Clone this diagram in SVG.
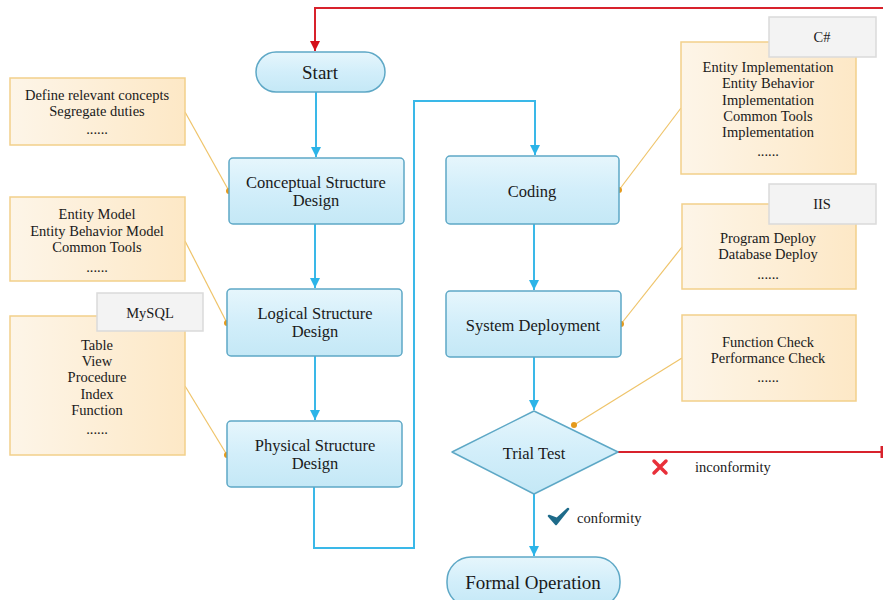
<svg xmlns="http://www.w3.org/2000/svg" width="883" height="600" viewBox="0 0 883 600">
  <defs>
    <linearGradient id="blueFill" x1="0" y1="0" x2="0" y2="1">
      <stop offset="0" stop-color="#e6f6fc"/>
      <stop offset="0.5" stop-color="#d2eefa"/>
      <stop offset="1" stop-color="#c4e8f6"/>
    </linearGradient>
    <linearGradient id="noteFill" x1="0" y1="0" x2="1" y2="0">
      <stop offset="0" stop-color="#fdf5e8"/>
      <stop offset="1" stop-color="#fde8c6"/>
    </linearGradient>
    <marker id="arrowBlue" viewBox="0 0 10 10" refX="10" refY="5" markerWidth="5" markerHeight="5" markerUnits="strokeWidth" orient="auto">
      <path d="M0,0 L10,5 L0,10 z" fill="#2cb4e8"/>
    </marker>
    <marker id="arrowRed" viewBox="0 0 10 10" refX="10" refY="5" markerWidth="5" markerHeight="5" markerUnits="strokeWidth" orient="auto">
      <path d="M0,0 L10,5 L0,10 z" fill="#d40f1a"/>
    </marker>
    <marker id="dot" viewBox="0 0 10 10" refX="5" refY="5" markerWidth="6" markerHeight="6" markerUnits="userSpaceOnUse">
      <circle cx="5" cy="5" r="5" fill="#e59a1c"/>
    </marker>
  </defs>
  <style>
    .proc { fill: url(#blueFill); stroke: #5ea8c6; stroke-width: 1.5; }
    .note { fill: url(#noteFill); stroke: #f2d08a; stroke-width: 1.5; }
    .tag { fill: #f3f3f3; stroke: #dadada; stroke-width: 1.5; }
    .flow { fill: none; stroke: #3ab8e8; stroke-width: 2; }
    .back { fill: none; stroke: #d8222c; stroke-width: 2; }
    .link { fill: none; stroke: #efc46a; stroke-width: 1.2; }
    .t { font-family: "Liberation Serif", "Times New Roman", serif; fill: #1a1a1a; text-anchor: middle; }
    .big { font-size: 19px; }
    .mid { font-size: 16.5px; }
    .small { font-size: 14.5px; }
    .lbl { font-family: "Liberation Serif", "Times New Roman", serif; font-size: 14.5px; fill: #1a1a1a; }
  </style>

  <rect width="883" height="600" fill="#ffffff"/>

  <!-- connectors -->
  <g id="connectors">
    <path class="back" d="M883,8 H315 V51" marker-end="url(#arrowRed)"/>
    <path class="flow" d="M316,92 V157" marker-end="url(#arrowBlue)"/>
    <path class="flow" d="M315,224 V288" marker-end="url(#arrowBlue)"/>
    <path class="flow" d="M315,356 V420" marker-end="url(#arrowBlue)"/>
    <path class="flow" d="M314,487 V548 H414 V101 H535 V155"  marker-end="url(#arrowBlue)"/>
    <path class="flow" d="M534,224 V290" marker-end="url(#arrowBlue)"/>
    <path class="flow" d="M534,357 V410" marker-end="url(#arrowBlue)"/>
    <path class="flow" d="M534,494 V556" marker-end="url(#arrowBlue)"/>
    <path class="back" d="M618,452 H882"/>
    <path d="M882,446 V458" stroke="#d8222c" stroke-width="3"/>
    <!-- note leaders -->
    <path class="link" d="M185,112 L229,191" marker-end="url(#dot)"/>
    <path class="link" d="M185,241 L227,323" marker-end="url(#dot)"/>
    <path class="link" d="M185,386 L227,455" marker-end="url(#dot)"/>
    <path class="link" d="M681,108 L619,190" marker-end="url(#dot)"/>
    <path class="link" d="M682,247 L621,324" marker-end="url(#dot)"/>
    <path class="link" d="M682,358 L574,425" marker-end="url(#dot)"/>
  </g>

  <!-- flow nodes -->
  <g id="start">
    <rect class="proc" x="256" y="52" width="129" height="40" rx="20"/>
    <text class="t big" x="320" y="79">Start</text>
  </g>
  <g id="conceptual">
    <rect class="proc" x="229" y="158" width="175" height="66" rx="4"/>
    <text class="t mid" x="316" y="188">Conceptual Structure</text>
    <text class="t mid" x="316" y="206">Design</text>
  </g>
  <g id="logical">
    <rect class="proc" x="227" y="289" width="175" height="67" rx="4"/>
    <text class="t mid" x="315" y="319">Logical Structure</text>
    <text class="t mid" x="315" y="337">Design</text>
  </g>
  <g id="physical">
    <rect class="proc" x="227" y="421" width="175" height="66" rx="4"/>
    <text class="t mid" x="315" y="451">Physical Structure</text>
    <text class="t mid" x="315" y="469">Design</text>
  </g>
  <g id="coding">
    <rect class="proc" x="446" y="156" width="173" height="68" rx="4"/>
    <text class="t mid" x="532" y="197">Coding</text>
  </g>
  <g id="deployment">
    <rect class="proc" x="446" y="291" width="175" height="66" rx="4"/>
    <text class="t mid" x="533" y="331">System Deployment</text>
  </g>
  <g id="trial">
    <path class="proc" d="M534,411 L618,452 L534,494 L452,452 Z" stroke-linejoin="round"/>
    <text class="t mid" x="534" y="459">Trial Test</text>
  </g>
  <g id="formal">
    <rect class="proc" x="447" y="557" width="173" height="50" rx="24"/>
    <text class="t big" x="533" y="589">Formal Operation</text>
  </g>

  <!-- branch labels -->
  <g id="branch-no">
    <path d="M654,461 L666,473 M666,461 L654,473" stroke="#e8303a" stroke-width="3.5" stroke-linecap="round"/>
    <text class="lbl" x="695" y="472">inconformity</text>
  </g>
  <g id="branch-yes">
    <path d="M549,516 L556,524 L568,509 L557,519 Z" fill="#1e6b8a" stroke="#1e6b8a" stroke-width="2.5" stroke-linejoin="round"/>
    <text class="lbl" x="577" y="523">conformity</text>
  </g>

  <!-- notes, left -->
  <g id="note-concepts">
    <rect class="note" x="10" y="78" width="175" height="67"/>
    <text class="t small" x="97" y="100">Define relevant concepts</text>
    <text class="t small" x="97" y="116">Segregate duties</text>
    <text class="t small" x="97" y="134">......</text>
  </g>
  <g id="note-models">
    <rect class="note" x="10" y="197" width="175" height="84"/>
    <text class="t small" x="97" y="219">Entity Model</text>
    <text class="t small" x="97" y="236">Entity Behavior Model</text>
    <text class="t small" x="97" y="252">Common Tools</text>
    <text class="t small" x="97" y="272">......</text>
  </g>
  <g id="note-mysql">
    <rect class="note" x="10" y="316" width="175" height="139"/>
    <rect class="tag" x="97" y="293" width="106" height="38"/>
    <text class="t small" x="150" y="318">MySQL</text>
    <text class="t small" x="97" y="350">Table</text>
    <text class="t small" x="97" y="366">View</text>
    <text class="t small" x="97" y="382">Procedure</text>
    <text class="t small" x="97" y="399">Index</text>
    <text class="t small" x="97" y="415">Function</text>
    <text class="t small" x="97" y="434">......</text>
  </g>

  <!-- notes, right -->
  <g id="note-csharp">
    <rect class="note" x="681" y="42" width="175" height="132"/>
    <rect class="tag" x="769" y="17" width="107" height="40"/>
    <text class="t small" x="822" y="42">C#</text>
    <text class="t small" x="768" y="72">Entity Implementation</text>
    <text class="t small" x="768" y="88">Entity Behavior</text>
    <text class="t small" x="768" y="105">Implementation</text>
    <text class="t small" x="768" y="121">Common Tools</text>
    <text class="t small" x="768" y="137">Implementation</text>
    <text class="t small" x="768" y="156">......</text>
  </g>
  <g id="note-iis">
    <rect class="note" x="682" y="204" width="174" height="85"/>
    <rect class="tag" x="769" y="184" width="107" height="40"/>
    <text class="t small" x="822" y="209">IIS</text>
    <text class="t small" x="768" y="243">Program Deploy</text>
    <text class="t small" x="768" y="259">Database Deploy</text>
    <text class="t small" x="768" y="279">......</text>
  </g>
  <g id="note-checks">
    <rect class="note" x="682" y="315" width="174" height="86"/>
    <text class="t small" x="768" y="347">Function Check</text>
    <text class="t small" x="768" y="363">Performance Check</text>
    <text class="t small" x="768" y="382">......</text>
  </g>
</svg>
